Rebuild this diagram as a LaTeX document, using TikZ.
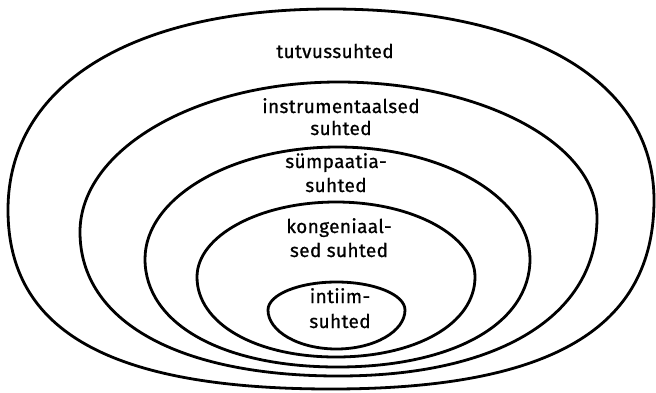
\documentclass[tikz,border=0pt]{standalone}
\usepackage{fontspec}
\setmainfont{Fira Sans}[LetterSpace=2,FakeBold=0.8]
\newcommand\shellpath[8]{% L R wyL wyR top bot kt kb
  \pgfmathsetmacro\cxx{(#1+#2)/2}
  \draw[shellline] (#1,#3) .. controls (#1,{#3-#7*(#3-#5)}) and ({\cxx-#7*(\cxx-#1)},#5) .. (\cxx,#5)
    .. controls ({\cxx+#7*(#2-\cxx)},#5) and (#2,{#4-#7*(#4-#5)}) .. (#2,#4)
    .. controls (#2,{#4+#8*(#6-#4)}) and ({\cxx+#8*(#2-\cxx)},#6) .. (\cxx,#6)
    .. controls ({\cxx-#8*(\cxx-#1)},#6) and (#1,{#3+#8*(#6-#3)}) .. cycle;}
\begin{document}
\begin{tikzpicture}[x=1pt,y=-1pt,
  shellline/.style={line width=2.8pt,black},
  lbl/.style={anchor=base,inner sep=0pt,font=\fontsize{19}{22}\selectfont}]
\useasboundingbox (0,0) rectangle (656,392);
\shellpath{8}{654}{210}{200}{9}{389}{0.62}{0.68}
\shellpath{80}{597}{232}{218}{82}{376}{0.55}{0.62}
\shellpath{145}{530}{259}{259}{147}{367}{0.55}{0.6}
\shellpath{197}{475}{277}{277}{202}{357}{0.55}{0.58}
\shellpath{268}{405}{310}{310}{282}{349}{0.55}{0.55}
\node[lbl] (tutv) at (335,58) {tutvussuhted};
\node[lbl] (instrA) at (341,113) {instrumentaalsed};
\node[lbl] (instrB) at (341,135) {suhted};
\node[lbl] (sympA) at (336,168) {sümpaatia-};
\node[lbl] (sympB) at (336,192) {suhted};
\node[lbl] (kongA) at (339,233) {kongeniaal-};
\node[lbl] (kongB) at (339,257) {sed suhted};
\node[lbl] (intA) at (340,303) {intiim-};
\node[lbl] (intB) at (340,328) {suhted};
\end{tikzpicture}
\end{document}
